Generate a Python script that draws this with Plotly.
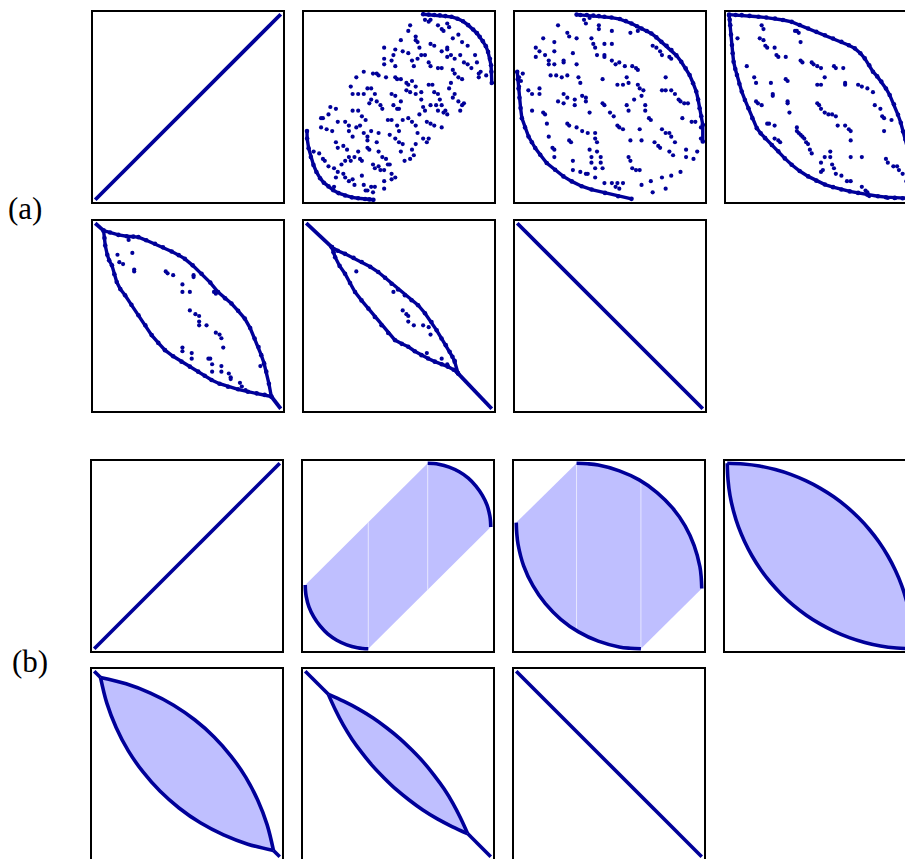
import plotly.graph_objects as go

W, H = 913, 859
NAVY = "#000099"
FILL = "#bfbfff"

# ---------- (a) sampled permutations, coordinates in percent of n ----------
diag_u = [0, 100]
diag_v = [0, 100]
anti_u = [0, 100]
anti_v = [100, 0]

a2_low_u = [0.4, 0.5, 1.3, 2.5, 3.9, 5.5, 7.5, 9.5, 12, 14.5, 17.4, 21, 24.6, 28, 31.7, 34, 36.2]
a2_low_v = [37, 33, 27.8, 23, 18.8, 15, 11.6, 9.2, 7.2, 5.2, 3.6, 2.3, 1.3, 0.8, 0.4, 0.2, 0]
a2_up_u = [63, 66, 69, 72, 75, 78.3, 81.5, 84.5, 87.3, 90, 92, 93.5, 95.2, 96.8, 98, 99, 99.6, 99.8, 100]
a2_up_v = [100, 99.8, 99.6, 99.4, 99, 98.6, 97.6, 96.2, 94.1, 91.8, 89.8, 87.8, 85.5, 82.8, 79.7, 76, 72.5, 69, 63]
a2_inner = [
    (64, 97), (66, 96), (67, 97), (71, 94), (73, 92), (74, 91), (76, 95), (77, 93), (79, 87), (82, 89),
    (84, 85), (87, 83), (91, 78), (92, 74), (94, 69), (97, 67), (56, 94), (55, 91), (59, 88), (59, 86),
    (61, 82), (60, 85), (64, 78), (66, 74), (67, 72), (71, 71), (73, 71), (76, 77), (78, 78), (80, 76),
    (83, 78), (85, 74), (87, 73), (89, 71), (93, 68), (93, 66), (51, 86), (48, 81), (47, 78), (46, 75),
    (48, 72), (52, 80), (55, 79), (57, 75), (58, 72), (60, 76), (62, 78), (67, 84), (69, 83), (73, 80),
    (76, 81), (76, 82), (42, 82), (42, 76), (42, 73), (38, 68), (36, 68), (39, 67), (43, 66), (48, 66),
    (49, 65), (51, 65), (54, 63), (55, 62), (57, 64), (59, 61), (62, 58), (66, 62), (68, 62), (69, 58),
    (71, 57), (72, 54), (73, 51), (75, 48), (76, 46), (79, 70), (80, 68), (82, 66), (84, 65), (78, 63),
    (77, 60), (80, 57), (79, 55), (82, 53), (84, 51), (85, 52), (83, 48), (27, 66), (31, 69), (24, 61),
    (25, 57), (28, 57), (31, 57), (33, 60), (35, 60), (37, 57), (38, 53), (40, 51), (35, 54), (34, 52),
    (41, 49), (46, 57), (48, 56), (47, 51), (49, 49), (51, 53), (50, 49), (54, 59), (56, 58), (59, 57),
    (62, 54), (63, 50), (61, 46), (64, 48), (67, 51), (70, 51), (71, 48), (74, 47), (13, 50), (16, 49),
    (12, 46), (9, 44), (8, 44), (8, 39), (11, 38), (14, 37), (17, 42), (21, 42), (23, 40), (25, 48),
    (28, 48), (30, 45), (32, 43), (29, 40), (27, 39), (23, 37), (25, 34), (31, 36), (33, 34), (33, 32),
    (35, 37), (39, 36), (38, 31), (39, 26), (41, 23), (43, 22), (45, 19), (44, 43), (46, 43), (49, 40),
    (50, 37), (52, 43), (55, 44), (57, 42), (59, 40), (60, 36), (65, 42), (67, 41), (69, 40), (73, 39),
    (63, 33), (65, 31), (66, 33), (59, 30), (57, 27), (52, 30), (51, 26), (50, 31), (48, 33), (45, 35),
    (4, 26), (7, 25), (9, 22), (10, 21), (12, 18), (15, 17), (16, 31), (17, 28), (20, 29), (22, 27),
    (23, 23), (21, 21), (19, 19), (17, 15), (20, 14), (21, 12), (23, 10), (25, 11), (26, 8), (30, 13),
    (31, 8), (32, 5), (33, 5), (35, 7), (37, 7), (36, 4), (37, 17), (36, 19), (39, 18), (40, 16),
    (42, 16), (44, 19), (46, 14), (48, 12), (46, 11), (42, 10), (42, 6), (53, 21), (56, 22), (58, 24),
    (28, 26), (29, 22), (30, 21), (33, 28), (34, 27), (26, 23), (24, 21), (15, 7), (16, 12),
]

a3_low_u = [0, 0.3, 0.7, 1.2, 1.8, 2.5, 4.2, 6.1, 7.9, 9.7, 12.4, 15.9, 20.4, 24.9, 29.4, 34.7, 40.1, 47.3, 54.4, 61.6]
a3_low_v = [69, 65, 60, 55, 49.5, 44, 39, 34.1, 31, 27.9, 24.3, 19.8, 16.2, 12.6, 9.9, 7.3, 5.5, 3.7, 1.9, 0.5]
a3_up_u = [32, 34, 37.5, 41, 44, 47, 50.8, 55.3, 58.5, 61.6, 64.5, 67, 69.8, 72.3, 75, 77.7, 80.5, 83.1, 85.8,
           88.4, 90.8, 92.9, 94.8, 96.5, 97.5, 98.3, 99.2, 100, 100]
a3_up_v = [99.8, 99.6, 99.6, 99.3, 99, 98.6, 98.2, 97.4, 96.3, 95, 93.5, 92.3, 91, 89.6, 87.5, 85.1, 83, 80.7, 77.8,
           74.4, 70.8, 67.2, 62.8, 58.3, 54, 49.3, 45, 40.4, 31.4]
a3_inner = [
    (22, 94), (27, 90), (28, 88), (32, 87), (14, 87), (20, 85), (10, 82), (12, 80), (10, 77), (15, 78),
    (20, 80), (17, 75), (17, 73), (20, 73), (25, 75), (25, 74), (30, 79), (32, 73), (18, 67), (21, 67),
    (24, 66), (27, 67), (33, 66), (34, 63), (12, 60), (12, 57), (8, 57), (6, 59), (1, 61), (2, 64),
    (3, 68), (1, 66), (25, 57), (27, 55), (22, 53), (25, 52), (31, 54), (31, 51), (35, 56), (37, 55),
    (37, 53), (8, 48), (14, 47), (15, 46), (16, 41), (27, 41), (28, 40), (32, 39), (35, 37), (38, 36),
    (17, 34), (28, 32), (29, 31), (19, 28), (20, 27), (20, 23), (39, 47), (42, 36), (42, 33), (43, 31),
    (39, 27), (43, 26), (40, 23), (45, 23), (40, 20), (42, 17), (30, 21), (30, 16), (34, 15), (37, 14),
    (38, 14), (42, 12), (45, 20), (46, 17), (47, 9), (51, 9), (53, 7), (55, 6), (54, 9), (57, 9),
    (39, 98), (36, 97), (37, 95), (44, 94), (44, 92), (51, 91), (61, 90), (65, 91), (40, 87), (41, 84),
    (42, 82), (47, 84), (51, 84), (43, 78), (47, 78), (47, 77), (51, 75), (53, 73), (55, 74), (58, 72),
    (62, 72), (64, 71), (65, 70), (46, 65), (54, 62), (57, 62), (59, 66), (60, 63), (65, 62), (66, 60),
    (68, 59), (46, 52), (47, 51), (50, 47), (52, 45), (54, 40), (55, 39), (57, 38), (61, 32), (59, 51),
    (60, 48), (63, 54), (67, 56), (69, 51), (69, 48), (71, 44), (72, 43), (66, 38), (67, 32), (60, 23),
    (61, 21), (62, 17), (64, 16), (66, 16), (67, 8), (72, 10), (73, 4), (74, 31), (76, 29), (77, 28),
    (78, 38), (80, 36), (82, 36), (83, 34), (85, 31), (84, 24), (82, 26), (78, 12), (80, 6), (83, 13),
    (88, 15), (91, 23), (91, 27), (95, 22), (97, 26), (80, 66), (80, 59), (78, 59), (83, 59), (85, 57),
    (87, 54), (88, 53), (90, 52), (92, 52), (89, 44), (94, 42), (96, 42), (99, 39), (99, 33), (73, 83),
    (75, 82), (77, 80), (78, 78), (82, 77), (83, 76),
]

a4_up_u = [0.5, 4, 7.3, 11.5, 16.3, 20.5, 25.2, 29.5, 34.2, 38.5, 43.1, 47.5, 52.1, 56.5, 61, 65, 68.2, 71.2,
           73.6, 76, 78, 80.3, 82.5, 85, 87, 89.3, 91.5, 93, 94.2, 95.5, 96.8, 97.8, 98.6, 99.2, 99.5]
a4_up_v = [99.8, 99.6, 99.5, 99.1, 98.6, 98.2, 97.7, 96.9, 95.9, 94.2, 92.3, 90.5, 88.7, 86.9, 85.1, 83.3, 81.6, 79,
           76.2, 72.5, 69, 66.5, 63.7, 60, 56.5, 51.5, 45.8, 41.5, 36.8, 32.5, 27.9, 23.5, 18.9, 12, 4.6]
a4_low_u = [0.5, 0.8, 1.1, 1.5, 2, 2.4, 2.9, 3.8, 4.7, 6, 7.3, 9, 10.9, 13, 15.4, 17.5, 19.9, 23.5, 27, 30.5,
            34.2, 38.5, 43.1, 47.5, 52.1, 56.5, 61, 65.5, 70, 75, 80.7, 85, 89.7, 94, 98.6]
a4_low_v = [99.5, 97, 94.1, 89, 83.4, 79, 74.4, 70.5, 67.2, 62.5, 58.3, 53.8, 49.3, 44, 38.6, 35.8, 33.2, 29.5,
            26.1, 22.3, 18.9, 15.5, 12.6, 10.3, 8.2, 6.8, 5.5, 4.5, 3.7, 2.7, 1.9, 1.4, 1, 0.8, 0.7]
a4_inner = [
    (5, 87), (10, 72), (14, 66), (15, 63), (15, 53), (16, 52), (18, 51), (21, 41), (22, 41), (25, 40),
    (25, 33), (27, 32), (28, 31), (23, 63), (24, 57), (24, 56), (31, 65), (32, 64), (32, 53), (32, 52),
    (33, 47), (37, 39), (37, 37), (38, 36), (39, 35), (40, 34), (41, 33), (42, 31), (43, 30), (44, 27),
    (45, 25), (17, 87), (19, 86), (20, 83), (21, 82), (25, 82), (26, 78), (27, 77), (31, 77), (18, 94),
    (19, 92), (36, 91), (37, 91), (38, 90), (39, 85), (39, 75), (40, 74), (45, 74), (46, 73), (48, 72),
    (50, 71), (52, 66), (48, 62), (50, 62), (48, 52), (49, 51), (50, 49), (52, 47), (54, 46), (56, 46),
    (58, 45), (59, 40), (57, 72), (58, 71), (62, 71), (63, 63), (63, 62), (63, 40), (65, 38), (66, 37),
    (66, 32), (66, 23), (72, 23), (55, 26), (55, 23), (52, 23), (50, 20), (51, 16), (50, 15), (56, 19),
    (57, 17), (58, 14), (61, 13), (64, 10), (66, 10), (72, 7), (74, 5), (75, 4), (76, 2), (70, 62),
    (72, 61), (75, 60), (78, 58), (79, 51), (82, 49), (83, 45), (84, 44), (88, 43), (84, 37), (85, 22),
    (86, 20), (89, 18), (91, 18), (92, 16), (94, 14), (96, 10), (96, 1), (86, 1), (90, 1),
]

a5_up_u = [4.5, 8, 12.5, 17, 20.5, 23.3, 27.5, 32.2, 36.5, 41.2, 45, 48.3, 52.5, 57.3, 62, 66.2, 70, 73.4, 77,
           80.6, 83.5, 85.9, 88, 89.5, 91, 92.2, 93.6, 94.9]
a5_up_v = [96, 95, 93.7, 93, 92.8, 92.5, 90.8, 88.9, 87, 84.8, 82.8, 80.8, 77.3, 72.8, 68, 62.9, 59.5, 56.7, 52.8,
           48.6, 43.5, 37.9, 33.3, 28.9, 24.5, 20, 13.5, 6.6]
a5_low_u = [4.5, 5, 5.4, 6.5, 7.5, 9, 10.3, 11.6, 13.5, 16.1, 19.5, 23.3, 27, 30.4, 34, 37.6, 42, 46.5, 51, 55.5,
            59, 62.7, 67, 71.6, 77, 82.3, 87, 91.3, 94.9]
a5_low_v = [96, 92, 88, 83, 80, 77.3, 72.5, 68.3, 64.5, 61.2, 56, 50.4, 45, 39.7, 35.5, 31.6, 28.3, 25.4, 22.7,
            20, 17.8, 15.5, 13.5, 11.9, 10.5, 9.2, 8.3, 7.5, 6.6]
a5_tail_u = [0, 4.5, None, 94.9, 100]
a5_tail_v = [100, 96, None, 6.6, 0]
a5_inner = [
    (18, 91), (20, 84), (12, 83), (13, 79), (15, 78), (21, 75), (21, 74), (38, 74), (39, 73), (42, 72),
    (53, 72), (53, 71), (47, 67), (47, 63), (51, 63), (64, 63), (65, 62), (51, 53), (54, 51), (56, 50),
    (56, 47), (56, 45), (60, 45), (65, 41), (67, 40), (68, 38), (69, 33), (47, 33), (47, 31), (52, 30),
    (52, 27), (61, 27), (62, 27), (63, 24), (63, 20), (68, 23), (68, 20), (72, 19), (73, 17), (73, 16),
    (78, 14), (79, 12), (81, 10), (89, 23), (91, 24),
]

a6_up_u = [13.8, 17, 20.9, 25.5, 29.9, 34.5, 38.8, 42.5, 46, 49.5, 53.2, 56.8, 60.3, 64, 67.5, 70.3, 72.9, 75.2,
           77.3, 78.8, 80, 81.8]
a6_up_v = [87.1, 85.2, 83.5, 81.3, 79.1, 76.5, 73.7, 70.6, 67.4, 64.3, 61.2, 58.5, 55.8, 51.5, 46.8, 42.3, 37.9,
           34.3, 30.7, 28, 25.4, 19.1]
a6_low_u = [13.8, 14.7, 15.6, 18, 20.9, 23.6, 26.3, 29.8, 33.5, 37, 40.6, 44.2, 47.8, 51.5, 55, 58.5, 62.1, 65.7,
            69.3, 73, 76.4, 79.5, 81.8]
a6_low_v = [87.1, 84.3, 81.7, 77, 72.8, 67.8, 62.9, 58.4, 54, 49.5, 45, 40.8, 37, 35, 33.4, 31, 28.9, 27.1, 25.4,
            24, 22.7, 21, 19.1]
a6_tail_u = [0, 13.8, None, 81.8, 100]
a6_tail_v = [100, 87.1, None, 19.1, 0]
a6_inner = [(27, 74), (47, 63), (52, 53), (54, 51), (55, 50), (55, 47), (58, 45), (63, 45), (66, 44), (67, 40),
            (65, 30), (73, 27), (76, 24), (76, 23), (80, 26)]

# ---------- (b) limit shapes ----------
b2_ll_u = [0, 0.13, 0.5, 2.0, 4.6, 8.0, 12.1, 17, 22.4, 28.1, 31, 34]
b2_ll_v = [34.4, 31.4, 28.4, 22.6, 17.2, 12.3, 8.0, 4.6, 2.1, 0.5, 0.13, 0]
b2_ur_u = [100, 99.87, 99.5, 98, 95.4, 92, 87.9, 83, 77.6, 71.9, 69, 66]
b2_ur_v = [65.6, 68.6, 71.6, 77.4, 82.8, 87.7, 92, 95.4, 97.9, 99.5, 99.87, 100]
b2_seam_u = [34, 66]
b2_seam_lo = [0, 31.8]
b2_seam_hi = [68.2, 100]

b3_ll_u = [0, 0.3, 1.0, 4.0, 9.0, 15.7, 24.0, 33.6, 44.2, 55.5, 61.4, 67.2]
b3_ll_v = [68, 62.1, 56.2, 44.7, 34, 24.3, 15.9, 9.1, 4.1, 1.0, 0.3, 0]
b3_ur_u = [100, 99.7, 99.0, 95.9, 91.0, 84.2, 75.9, 66.25, 55.6, 44.2, 38.4, 32.5]
b3_ur_v = [32.5, 38.4, 44.2, 55.6, 66.25, 75.9, 84.2, 91.0, 95.9, 99.0, 99.7, 100]
b3_seam_u = [32.5, 67.2]
b3_seam_lo = [9.8, 0]
b3_seam_hi = [100, 90.4]

b4_up_u = [0, 8.7, 17.4, 25.9, 34.2, 42.3, 50, 57.4, 64.3, 70.7, 76.6, 81.9, 86.6, 90.6, 94, 96.6, 98.5, 99.6, 100]
b4_up_v = [100, 99.6, 98.5, 96.6, 94, 90.6, 86.6, 81.9, 76.6, 70.7, 64.3, 57.4, 50, 42.3, 34.2, 25.9, 17.4, 8.7, 0]
b4_low_u = [0, 0.4, 1.5, 3.4, 6, 9.4, 13.4, 18.1, 23.4, 29.3, 35.7, 42.6, 50, 57.7, 65.8, 74.1, 82.6, 91.3, 100]
b4_low_v = [100, 91.3, 82.6, 74.1, 65.8, 57.7, 50, 42.6, 35.7, 29.3, 23.4, 18.1, 13.4, 9.4, 6, 3.4, 1.5, 0.4, 0]

b5_up_u = [3.4, 17.2, 30.3, 42.8, 54.3, 64.6, 73.7, 81.7, 88.2, 93.2, 96.6]
b5_up_v = [96.6, 93.2, 88.2, 81.7, 73.7, 64.6, 54.3, 42.8, 30.3, 17.2, 3.4]
b5_low_u = [3.4, 6.8, 11.8, 18.3, 26.3, 35.4, 45.7, 57.2, 69.7, 82.8, 96.6]
b5_low_v = [96.6, 82.8, 69.7, 57.2, 45.7, 35.4, 26.3, 18.3, 11.8, 6.8, 3.4]
b5_tail_u = [0, 3.4, None, 96.6, 100]
b5_tail_v = [100, 96.6, None, 3.4, 0]

b6_up_u = [12.6, 20.9, 28.8, 36.6, 44.0, 51.0, 57.5, 63.7, 69.4, 74.8, 79.6, 83.7, 87.5]
b6_up_v = [87.5, 83.7, 79.6, 74.8, 69.4, 63.7, 57.5, 51.0, 44.0, 36.6, 28.8, 20.9, 12.6]
b6_low_u = [12.5, 16.3, 20.4, 25.2, 30.6, 36.3, 42.5, 49, 56, 63.4, 71.2, 79.1, 87.4]
b6_low_v = [87.4, 79.1, 71.2, 63.4, 56, 49, 42.5, 36.3, 30.6, 25.2, 20.4, 16.3, 12.5]
b6_tail_u = [0, 12.6, None, 87.5, 100]
b6_tail_v = [100, 87.5, None, 12.5, 0]

# panel outer box corners (left, top) in page pixels
a_cols = [91, 302, 513, 724]
a_rows = [10, 219]
b_cols = [90, 301, 512, 723]
b_rows = [459, 667]

OFF = 8        # the page body margin shifts the figure by this much
PAD = 1.2
INNER = 190

fig = go.Figure()
layout = dict(width=W, height=H, margin=dict(l=0, r=0, t=0, b=0),
              paper_bgcolor="white", plot_bgcolor="white", showlegend=False)


def add_axes(n, left, top):
    x0, y0 = left + 2 - OFF, top + 2 - OFF
    x1, y1 = x0 + INNER, y0 + INNER
    base = dict(showgrid=False, zeroline=False, showticklabels=False, ticks="",
                showline=True, linecolor="black", linewidth=2, mirror=True, fixedrange=True,
                range=[-PAD, 100 + PAD])
    sx = "" if n == 1 else str(n)
    layout["xaxis" + sx] = dict(base, domain=[x0 / W, x1 / W], anchor="y" + sx)
    layout["yaxis" + sx] = dict(base, domain=[1 - y1 / H, 1 - y0 / H], anchor="x" + sx)
    return "x" + sx, "y" + sx


def line(ax, u, v, width=3.6, color=NAVY, smooth=True):
    fig.add_trace(go.Scatter(x=u, y=v, mode="lines",
                             line=dict(color=color, width=width, shape="spline" if smooth else "linear"),
                             xaxis=ax[0], yaxis=ax[1], hoverinfo="skip"))


def dots(ax, pts, size=4.2):
    u, v = zip(*pts)
    fig.add_trace(go.Scatter(x=u, y=v, mode="markers", marker=dict(color=NAVY, size=size),
                             xaxis=ax[0], yaxis=ax[1], hoverinfo="skip"))


def beads(ax, u, v):
    fig.add_trace(go.Scatter(x=u, y=v, mode="lines+markers", line=dict(color=NAVY, width=3.4),
                             marker=dict(color=NAVY, size=4.6), xaxis=ax[0], yaxis=ax[1], hoverinfo="skip"))


def fill(ax, u, v):
    fig.add_trace(go.Scatter(x=u, y=v, mode="lines", fill="toself", fillcolor=FILL,
                             line=dict(width=0, color=FILL), xaxis=ax[0], yaxis=ax[1], hoverinfo="skip"))


def seams(ax, su, lo, hi):
    for s, a, b in zip(su, lo, hi):
        line(ax, [s, s], [a, b], width=1, color="rgba(235,235,255,0.9)", smooth=False)


# ---- row (a) ----
axA = [add_axes(i + 1, a_cols[i % 4], a_rows[i // 4]) for i in range(7)]
line(axA[0], diag_u, diag_v, width=3.8, smooth=False)

beads(axA[1], a2_low_u, a2_low_v)
beads(axA[1], a2_up_u, a2_up_v)
dots(axA[1], a2_inner)

beads(axA[2], a3_low_u, a3_low_v)
beads(axA[2], a3_up_u, a3_up_v)
dots(axA[2], a3_inner)

beads(axA[3], a4_up_u, a4_up_v)
beads(axA[3], a4_low_u, a4_low_v)
dots(axA[3], a4_inner)

line(axA[4], a5_tail_u, a5_tail_v, width=3.8, smooth=False)
beads(axA[4], a5_up_u, a5_up_v)
beads(axA[4], a5_low_u, a5_low_v)
dots(axA[4], a5_inner)

line(axA[5], a6_tail_u, a6_tail_v, width=3.8, smooth=False)
beads(axA[5], a6_up_u, a6_up_v)
beads(axA[5], a6_low_u, a6_low_v)
dots(axA[5], a6_inner)

line(axA[6], anti_u, anti_v, width=3.8, smooth=False)

# ---- row (b) ----
axB = [add_axes(8 + i, b_cols[i % 4], b_rows[i // 4]) for i in range(7)]
line(axB[0], diag_u, diag_v, smooth=False)

fill(axB[1], b2_ll_u + b2_ur_u, b2_ll_v + b2_ur_v)
seams(axB[1], b2_seam_u, b2_seam_lo, b2_seam_hi)
line(axB[1], b2_ll_u, b2_ll_v)
line(axB[1], b2_ur_u, b2_ur_v)

fill(axB[2], b3_ll_u + b3_ur_u, b3_ll_v + b3_ur_v)
seams(axB[2], b3_seam_u, b3_seam_lo, b3_seam_hi)
line(axB[2], b3_ll_u, b3_ll_v)
line(axB[2], b3_ur_u, b3_ur_v)

fill(axB[3], b4_up_u + b4_low_u[::-1], b4_up_v + b4_low_v[::-1])
line(axB[3], b4_up_u, b4_up_v)
line(axB[3], b4_low_u, b4_low_v)

fill(axB[4], b5_up_u + b5_low_u[::-1], b5_up_v + b5_low_v[::-1])
line(axB[4], b5_tail_u, b5_tail_v, smooth=False)
line(axB[4], b5_up_u, b5_up_v)
line(axB[4], b5_low_u, b5_low_v)

fill(axB[5], b6_up_u + b6_low_u[::-1], b6_up_v + b6_low_v[::-1])
line(axB[5], b6_tail_u, b6_tail_v, smooth=False)
line(axB[5], b6_up_u, b6_up_v)
line(axB[5], b6_low_u, b6_low_v)

line(axB[6], anti_u, anti_v, smooth=False)

label_font = dict(family="Liberation Serif", size=31, color="black")
layout["annotations"] = [
    dict(text="(a)", x=(25 - OFF) / W, y=1 - (208 - OFF) / H, xref="paper", yref="paper", showarrow=False,
         xanchor="center", yanchor="middle", font=label_font),
    dict(text="(b)", x=(30 - OFF) / W, y=1 - (661 - OFF) / H, xref="paper", yref="paper", showarrow=False,
         xanchor="center", yanchor="middle", font=label_font),
]
fig.update_layout(**layout)
fig.write_html("out.html")
